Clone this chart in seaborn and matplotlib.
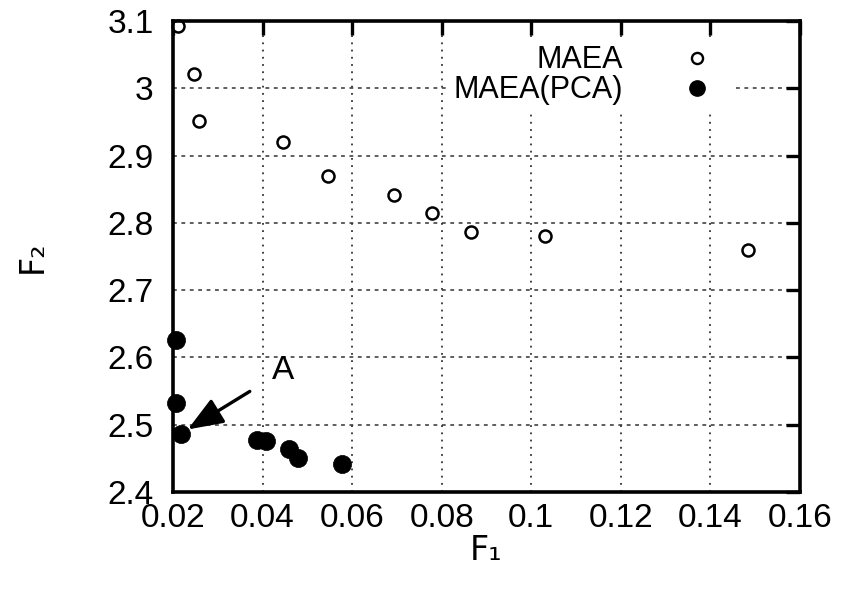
import matplotlib
matplotlib.use("Agg")
import matplotlib.pyplot as plt
import seaborn as sns
import pandas as pd

# Pareto fronts of the two algorithms
maea_f1 = [0.0211, 0.0247, 0.0258, 0.0446, 0.0546, 0.0693, 0.0778, 0.0865, 0.1030, 0.1484]
maea_f2 = [3.093, 3.021, 2.951, 2.920, 2.869, 2.842, 2.815, 2.787, 2.780, 2.759]

pca_f1 = [0.0207, 0.0207, 0.0218, 0.0388, 0.0408, 0.0459, 0.0479, 0.0577]
pca_f2 = [2.626, 2.532, 2.486, 2.477, 2.476, 2.464, 2.451, 2.441]

x_ticks = [0.02, 0.04, 0.06, 0.08, 0.1, 0.12, 0.14, 0.16]
x_tick_labels = ["0.02", "0.04", "0.06", "0.08", "0.1", "0.12", "0.14", "0.16"]
y_ticks = [2.4, 2.5, 2.6, 2.7, 2.8, 2.9, 3.0, 3.1]
y_tick_labels = ["2.4", "2.5", "2.6", "2.7", "2.8", "2.9", "3", "3.1"]

df_maea = pd.DataFrame({"F1": maea_f1, "F2": maea_f2})
df_pca = pd.DataFrame({"F1": pca_f1, "F2": pca_f2})

sns.set_style("white")
plt.rcParams["font.family"] = ["Liberation Sans", "DejaVu Sans"]
plt.rcParams["text.color"] = "black"
plt.rcParams["axes.labelcolor"] = "black"

FS = 24

fig = plt.figure(figsize=(8.5, 5.95), dpi=100)
ax = fig.add_axes([0.2035, 0.173, 0.7375, 0.7917])

sns.scatterplot(data=df_maea, x="F1", y="F2", ax=ax, marker="o", s=75,
                facecolor="white", edgecolor="black", linewidth=1.8,
                zorder=3, clip_on=False, legend=False)
sns.scatterplot(data=df_pca, x="F1", y="F2", ax=ax, marker="o", s=170,
                color="black", edgecolor="black", linewidth=0.5,
                zorder=3, clip_on=False, legend=False)

ax.set_xlim(0.02, 0.16)
ax.set_ylim(2.4, 3.1)
ax.set_xticks(x_ticks)
ax.set_xticklabels(x_tick_labels)
ax.set_yticks(y_ticks)
ax.set_yticklabels(y_tick_labels)

# dotted vertical grid, short-dashed horizontal grid
ax.xaxis.grid(True, color="#333333", linestyle=(0, (1, 3)), linewidth=1.3)
ax.yaxis.grid(True, color="#333333", linestyle=(0, (2.5, 3)), linewidth=1.1)
ax.set_axisbelow(True)
for sp in ax.spines.values():
    sp.set_visible(True)
    sp.set_linewidth(2.6)
    sp.set_color("black")
    sp.set_zorder(4)

ax.tick_params(axis="both", which="major", direction="in", length=10, width=2.4,
               top=True, right=True, labelsize=FS, colors="black")
ax.tick_params(axis="x", pad=8)
ax.tick_params(axis="y", pad=14)

ax.set_xlabel("F₁", fontsize=FS, labelpad=0, family=["DejaVu Sans"])
ax.set_ylabel("F₂", fontsize=FS, labelpad=42, family=["DejaVu Sans"])

# Annotation pointing at the knee solution
ax.annotate("A", xy=(0.0233, 2.493), xytext=(0.0446, 2.580),
            fontsize=FS, ha="center", va="center",
            arrowprops=dict(arrowstyle="-|>,head_length=0.9,head_width=0.35",
                            color="black", lw=2.4, shrinkA=16, shrinkB=0))

# Legend with labels to the left of the markers, on an opaque borderless box
h1 = plt.Line2D([], [], linestyle="none", marker="o", markersize=8,
                markerfacecolor="white", markeredgecolor="black", markeredgewidth=1.7)
h2 = plt.Line2D([], [], linestyle="none", marker="o", markersize=11,
                markerfacecolor="black", markeredgecolor="black")
leg = ax.legend([h1, h2], ["MAEA", "MAEA(PCA)"], loc="upper right",
                bbox_to_anchor=(0.919, 0.994), frameon=True, markerfirst=False,
                fontsize=22, handletextpad=1.43, handlelength=2.0,
                labelspacing=0.0, borderpad=0.2, fancybox=False,
                framealpha=1.0, facecolor="white", edgecolor="none")
leg.set_zorder(5)

fig.savefig("out.png", dpi=100)
